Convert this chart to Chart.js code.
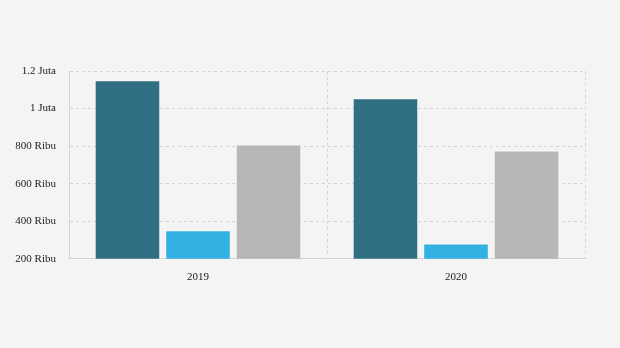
<!DOCTYPE html>
<html>
<head>
<meta charset="utf-8">
<script src="https://cdn.jsdelivr.net/npm/chart.js@4/dist/chart.umd.min.js"></script>
<style>
  html, body { margin: 0; padding: 0; background: #f4f4f4; }
  #wrap { width: 620px; height: 348px; }
</style>
</head>
<body>
<div id="wrap"><canvas id="chart"></canvas></div>
<script>
// Data
const years = ['2019', '2020'];
const seriesA = [1151000, 1055000];
const seriesB = [352000, 281000];
const seriesC = [809000, 777000];

const yTicks = [200000, 400000, 600000, 800000, 1000000, 1200000];

function formatTick(value) {
    if (value >= 1000000) {
        return (value / 1000000) + ' Juta';
    }
    return (value / 1000) + ' Ribu';
}

const gridColor = '#d4d4d4';
const fontSpec = { family: '"Liberation Serif", "Times New Roman", serif', size: 11 };

var ctx = document.getElementById('chart').getContext('2d');
var chart = new Chart(ctx, {
    type: 'bar',
    data: {
        labels: years,
        datasets: [
            {
                label: 'A',
                data: seriesA,
                backgroundColor: '#306f82',
                borderColor: 'rgba(255,255,255,0.35)',
                borderWidth: 1
            },
            {
                label: 'B',
                data: seriesB,
                backgroundColor: '#33b1e2',
                borderColor: 'rgba(255,255,255,0.35)',
                borderWidth: 1
            },
            {
                label: 'C',
                data: seriesC,
                backgroundColor: '#b7b7b8',
                borderColor: 'rgba(255,255,255,0.35)',
                borderWidth: 1
            }
        ]
    },
    options: {
        responsive: true,
        maintainAspectRatio: false,
        animation: false,
        layout: {
            padding: { left: 0, right: 35, top: 71, bottom: 52 }
        },
        datasets: {
            bar: {
                categoryPercentage: 0.82,
                barPercentage: 0.93
            }
        },
        scales: {
            x: {
                grid: {
                    color: gridColor,
                    lineWidth: 1,
                    drawTicks: false
                },
                border: { color: gridColor, dash: [3, 3] },
                ticks: {
                    color: '#222',
                    font: fontSpec,
                    padding: 12
                }
            },
            y: {
                min: 200000,
                max: 1200000,
                afterFit: function (scale) { scale.width = 69; },
                afterBuildTicks: function (scale) {
                    scale.ticks = yTicks.map(v => ({ value: v }));
                },
                grid: {
                    color: gridColor,
                    lineWidth: 1,
                    drawTicks: false
                },
                border: { color: gridColor, dash: [3, 3] },
                ticks: {
                    color: '#222',
                    font: fontSpec,
                    padding: 13,
                    callback: function (value) { return formatTick(value); }
                }
            }
        },
        plugins: {
            legend: { display: false },
            tooltip: { enabled: false }
        }
    },
    plugins: [{
        id: 'bg',
        beforeDraw: function (c) {
            const g = c.ctx;
            g.save();
            g.fillStyle = '#f4f4f4';
            g.fillRect(0, 0, c.width, c.height);
            g.restore();
        }
    }]
});
</script>
</body>
</html>
